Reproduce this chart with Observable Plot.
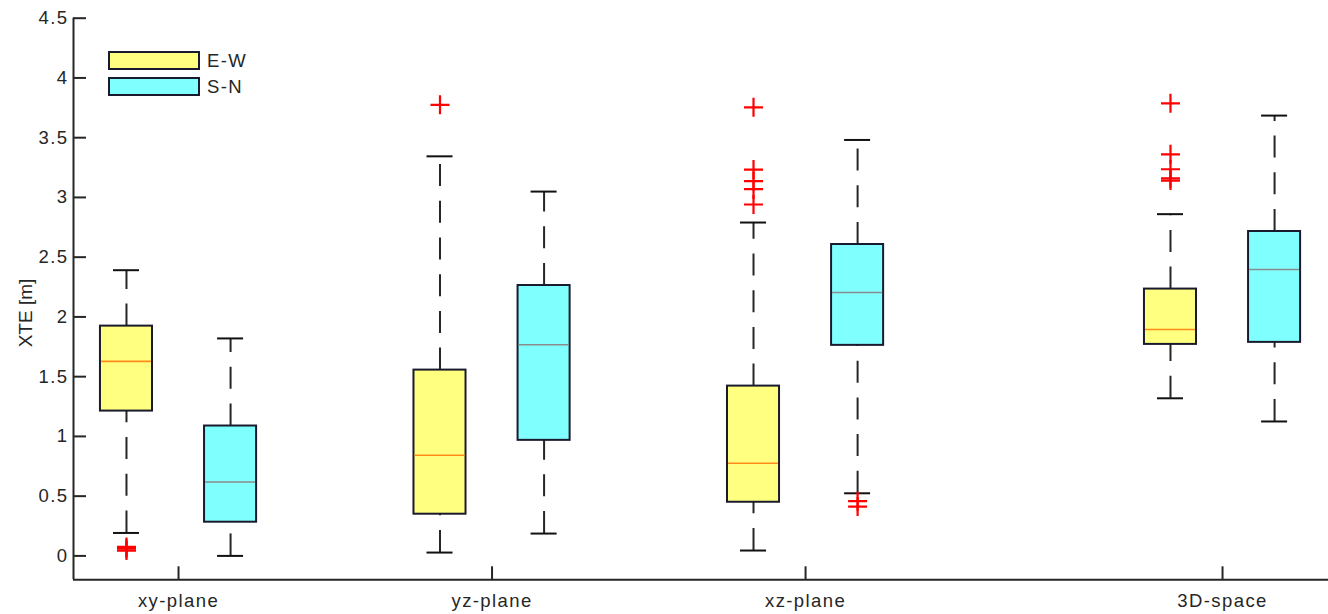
<!DOCTYPE html>
<html><head><meta charset="utf-8">
<script src="https://cdn.jsdelivr.net/npm/d3@7"></script>
<script src="https://cdn.jsdelivr.net/npm/@observablehq/plot@0.6"></script>
<style>
body{margin:0;background:#fff;}
#wrap{position:relative;width:1328px;height:614px;font-family:"Liberation Sans",Arial,sans-serif;color:#262626;}
#legend{position:absolute;left:108px;top:51px;}
.item{display:flex;align-items:center;height:19px;margin-bottom:7px;}
.sw{width:92px;height:19px;box-sizing:border-box;border:2px solid #1a1a2e;}
.lab{margin-left:7px;font-size:18.5px;letter-spacing:1.4px;line-height:19px;}
#ylab{position:absolute;left:25px;top:313px;transform:translate(-50%,-50%) rotate(-90deg);white-space:nowrap;font-size:19px;line-height:19px;}
</style></head><body><div id="wrap"><div id="chart"></div><div id="legend"></div><div id="ylab"></div></div>
<script>
// ---- data ----
const groups = ["xy-plane", "yz-plane", "xz-plane", "3D-space"];
const groupPos = [1, 2, 3, 4.33];
const series = ["E-W", "S-N"];
const yTicks = [0, 0.5, 1, 1.5, 2, 2.5, 3, 3.5, 4, 4.5];
const yLabel = "XTE [m]";

const ewLo  = [0.192, 0.028, 0.045, 1.319];
const ewQ1  = [1.212, 0.349, 0.449, 1.770];
const ewMed = [1.628, 0.842, 0.775, 1.895];
const ewQ3  = [1.923, 1.555, 1.421, 2.233];
const ewHi  = [2.391, 3.344, 2.790, 2.860];
const ewOut = [[0.045, 0.06, 0.075], [3.775], [3.754, 3.233, 3.136, 3.069, 2.941], [3.788, 3.361, 3.236, 3.16, 3.141]];

const snLo  = [0.0, 0.187, 0.524, 1.125];
const snQ1  = [0.282, 0.967, 1.762, 1.787];
const snMed = [0.619, 1.767, 2.205, 2.397];
const snQ3  = [1.087, 2.263, 2.606, 2.715];
const snHi  = [1.820, 3.049, 3.481, 3.685];
const snOut = [[], [], [0.458, 0.413], []];

// ---- layout / style ----
const fills = ["#ffff80", "#80ffff"];
const medColors = ["#ff8c1a", "#8c8c8c"];
const boxStroke = "#1a1a2e";
const ink = "#262626";
const OFFSET = 0.166, BOX_HALF = 0.083, CAP_HALF = 0.0415;
const xDomain = [0.665, 4.668];
const yDomain = [-0.2, 4.5];

const stats = [
  {lo: ewLo, q1: ewQ1, med: ewMed, q3: ewQ3, hi: ewHi, out: ewOut},
  {lo: snLo, q1: snQ1, med: snMed, q3: snQ3, hi: snHi, out: snOut}
];
const rows = [];
const outRows = [];
series.forEach((s, si) => {
  groups.forEach((g, gi) => {
    const st = stats[si];
    const xc = groupPos[gi] + (si === 0 ? -OFFSET : OFFSET);
    rows.push({series: s, si, group: g, xc, lo: st.lo[gi], q1: st.q1[gi], med: st.med[gi], q3: st.q3[gi], hi: st.hi[gi]});
    st.out[gi].forEach(v => outRows.push({series: s, group: g, xc, v}));
  });
});

const plusSymbol = {
  draw(context, size) {
    const r = Math.sqrt(size / Math.PI);
    context.moveTo(-r, 0); context.lineTo(r, 0);
    context.moveTo(0, -r); context.lineTo(0, r);
  }
};

const chart = Plot.plot({
  width: 1328,
  height: 614,
  marginLeft: 73,
  marginRight: 0,
  marginTop: 17.7,
  marginBottom: 34.7,
  style: {fontFamily: '"Liberation Sans", Arial, sans-serif', fontSize: "18.5px", color: ink, background: "#fff", letterSpacing: "1.4px"},
  x: {domain: xDomain},
  y: {domain: yDomain},
  marks: [
    // whiskers (dashed), drawn from the lower value upwards
    Plot.ruleX(rows, {x: "xc", y1: "lo", y2: "q1", stroke: ink, strokeWidth: 2, strokeDasharray: "22,14.7"}),
    Plot.ruleX(rows, {x: "xc", y1: "q3", y2: "hi", stroke: ink, strokeWidth: 2, strokeDasharray: "22,14.7"}),
    // caps
    Plot.ruleY(rows, {x1: d => d.xc - CAP_HALF, x2: d => d.xc + CAP_HALF, y: "lo", stroke: "#111", strokeWidth: 2}),
    Plot.ruleY(rows, {x1: d => d.xc - CAP_HALF, x2: d => d.xc + CAP_HALF, y: "hi", stroke: "#111", strokeWidth: 2}),
    // boxes
    Plot.rect(rows, {x1: d => d.xc - BOX_HALF, x2: d => d.xc + BOX_HALF, y1: "q1", y2: "q3", fill: d => fills[d.si], stroke: boxStroke, strokeWidth: 2}),
    // medians
    Plot.ruleY(rows, {x1: d => d.xc - BOX_HALF, x2: d => d.xc + BOX_HALF, y: "med", stroke: d => medColors[d.si], strokeWidth: 1.6, insetLeft: 1, insetRight: 1}),
    // outliers
    Plot.dot(outRows, {x: "xc", y: "v", symbol: plusSymbol, r: 9.5, stroke: "#ff0000", strokeWidth: 2.2, fill: "none"}),
    // axes
    Plot.axisY({ticks: yTicks, tickFormat: d => String(d), tickSize: -13, tickPadding: 18, label: null, stroke: ink, strokeWidth: 2, color: ink}),
    Plot.axisX({ticks: groupPos, tickFormat: d => groups[groupPos.indexOf(d)], tickSize: -13, tickPadding: 27, label: null, stroke: ink, strokeWidth: 2, color: ink}),
    Plot.ruleX([xDomain[0]], {stroke: ink, strokeWidth: 2}),
    Plot.ruleY([yDomain[0]], {stroke: ink, strokeWidth: 2})
  ]
});
document.getElementById("chart").appendChild(chart);
d3.select("#ylab").text(yLabel);

// legend
const leg = d3.select("#legend");
series.forEach((s, si) => {
  const it = leg.append("div").attr("class", "item");
  it.append("div").attr("class", "sw").style("background", fills[si]);
  it.append("div").attr("class", "lab").text(s);
});
</script>
</body></html>
